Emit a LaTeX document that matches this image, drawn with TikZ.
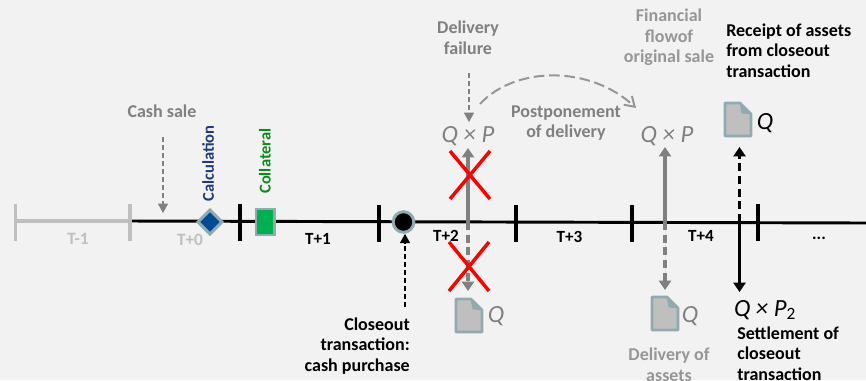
\documentclass[tikz,border=0pt]{standalone}
\usepackage{fontspec}
\setmainfont{Carlito}
\usetikzlibrary{arrows.meta,calc}
\definecolor{bgc}{HTML}{F2F2F2}
\definecolor{greytxt}{HTML}{808080}
\definecolor{softtxt}{HTML}{969696}
\definecolor{lighttxt}{HTML}{BFBFBF}
\definecolor{edgec}{HTML}{8FABAF}
\definecolor{docfill}{HTML}{BFBFBF}
\definecolor{calcfill}{HTML}{004A96}
\definecolor{calctxt}{HTML}{1F3A7D}
\definecolor{collfill}{HTML}{00B050}
\definecolor{colltxt}{HTML}{0E8A1E}
\tikzset{
  lbl/.style={font=\bfseries\fontsize{13.5}{15.4}\selectfont,inner sep=0pt,align=center},
  greylbl/.style={lbl,text=greytxt},
  softlbl/.style={lbl,text=softtxt},
  blacklbl/.style={lbl,text=black},
  faint/.style={lbl,text=lighttxt,font=\bfseries\fontsize{13}{15.4}\selectfont},
  period/.style={lbl,text=black,font=\bfseries\fontsize{12.8}{15.4}\selectfont},
  sidelbl/.style={font=\bfseries\fontsize{12.4}{15}\selectfont,rotate=90,anchor=west,inner sep=0pt},
  mathlbl/.style={font=\itshape\fontsize{18.5}{20}\selectfont,inner sep=0pt},
  tick/.style={line width=2.4pt},
  gtick/.style={line width=2.4pt,draw=lighttxt},
  thinarrow/.style={dashed,dash pattern=on 3.5pt off 2.5pt,line width=1pt,-{Triangle[length=7pt,width=7.5pt]}},
  bigarrow/.style={line width=2.8pt,-{Triangle[length=7pt,width=9pt]}},
  bigdash/.style={bigarrow,dash pattern=on 6pt off 3.5pt},
  cross/.style={red,line width=2.6pt},
  docshape/.style={draw=edgec,fill=docfill,line width=2pt,line join=round},
}
\newcommand{\docicon}[2]{% left, top
  \filldraw[docshape] (#1,#2) -- ++(15,0) -- ++(11,11) -- ++(0,22) -- ++(-26,0) -- cycle;
  \filldraw[draw=edgec,fill=edgec,line width=.6pt] (#1+15,#2) -- ++(11,11) -- ++(-9,-1) -- cycle;
}
\begin{document}
\begin{tikzpicture}[x=0.75pt,y=-0.75pt]
\useasboundingbox[fill=bgc] (0,0) rectangle (866,380);
% timeline
\coordinate (g0) at (15,221);
\coordinate (g1) at (130,221);
\coordinate (end) at (866,223);
\draw[line width=2.4pt,draw=lighttxt] (g0) -- (g1);
\draw[line width=2.2pt] (g1) -- (end);
\draw[gtick] (15.5,204) -- (15.5,241);
\draw[gtick] (130,204) -- (130,241);
\draw[tick] (240,204) -- (240,241);
\draw[tick] (379,205) -- (379,242);
\draw[tick] (516,205) -- (516,242);
\draw[tick] (632,205) -- (632,242);
\draw[tick] (758,204) -- (758,241);
% period labels
\node[faint] (tm1) at (78,239) {T-1};
\node[faint] (t0) at (190,240) {T+0};
\node[period] (t1) at (318,239) {T+1};
\node[period] (t2) at (446,236) {T+2};
\node[period] (t3) at (569.5,237) {T+3};
\node[period] (t4) at (701,236) {T+4};
\node[period] (dots) at (819,238) {...};
% markers
\path[draw=edgec,fill=calcfill,line width=2.2pt] (198,222) -- (210,210) -- (222,222) -- (210,234) -- cycle;
\filldraw[draw=edgec,fill=collfill,line width=2.2pt] (256,209) rectangle (274.5,235);
\node[circle,draw=edgec,fill=black,line width=2.2pt,minimum size=15.5pt,inner sep=0pt] (closeout) at (403.5,222) {};
\node[sidelbl,text=calctxt] (calc) at (208,202) {Calculation};
\node[sidelbl,text=colltxt] (coll) at (265,194) {Collateral};
% notes
\node[greylbl] (cash) at (162,111) {Cash sale};
\node[greylbl] (fail) at (468,38) {Delivery\\failure};
\node[greylbl] (post) at (566,123) {Postponement\\of delivery};
\node[softlbl] (fin) at (669,37.5) {Financial\\flowof\\original sale};
\node[blacklbl,align=left,anchor=west] (rec) at (726,50.5) {Receipt of assets\\from closeout\\transaction};
\node[blacklbl,align=left,anchor=west] (set) at (737,353.5) {Settlement of\\closeout\\transaction};
\node[blacklbl,align=right,anchor=east] (clo) at (410,346) {Closeout\\transaction:\\cash purchase};
\node[softlbl] (del) at (669,365) {Delivery of\\assets};
% amounts
\node[mathlbl,text=greytxt] (qp1) at (468,136) {Q × P};
\node[mathlbl,text=greytxt] (qp2) at (667,136) {Q × P};
\node[mathlbl,text=greytxt] (q1) at (496,316) {Q};
\node[mathlbl,text=greytxt] (q2) at (690,316) {Q};
\node[mathlbl] (q3) at (765,123) {Q};
\node[mathlbl] (qp3) at (765,310) {Q × P\textsubscript{\upshape 2}};
% documents
\docicon{456}{299}
\docicon{652}{297}
\docicon{725}{103}
% flows
\coordinate (a1) at (468,222);
\coordinate (a2) at (665,222);
\coordinate (a3) at (739.5,222);
\draw[bigarrow,draw=greytxt,fill=greytxt] (a1) -- (468,148);
\draw[bigdash,draw=greytxt,fill=greytxt] (a1) -- (468,291);
\draw[bigarrow,draw=greytxt,fill=greytxt] (a2) -- (665,147);
\draw[bigdash,draw=greytxt,fill=greytxt] (a2) -- (665,290);
\draw[bigdash] (a3) -- (739.5,147);
\draw[bigarrow] (a3) -- (739.5,292);
% thin dashed pointers
\draw[thinarrow,draw=greytxt] (163,137) -- (163,213);
\draw[thinarrow,draw=greytxt] (469,73) -- (469,122);
\draw[thinarrow] (405,307) -- (closeout.south -| 405,0) ;
\draw[draw=softtxt,line width=1.5pt,dash pattern=on 8pt off 3.5pt,-{Straight Barb[length=7pt,width=9pt]}] (480,104) .. controls (515,66) and (590,65) .. (636,108);
% crosses
\draw[cross] (450,151) -- (490,199);
\draw[cross] (490,151) -- (450,199);
\draw[cross] (449,242) -- (489,291);
\draw[cross] (489,242) -- (449,291);
\end{tikzpicture}
\end{document}
